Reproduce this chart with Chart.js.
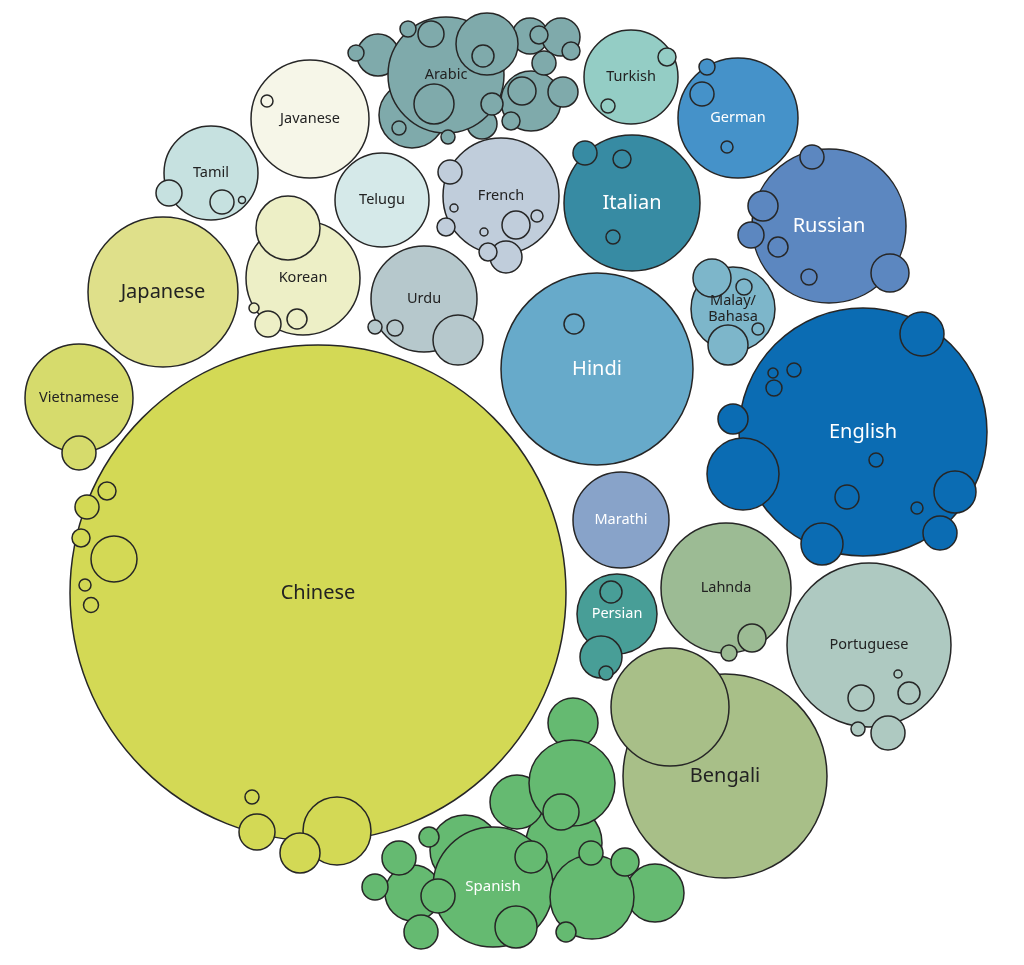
<!DOCTYPE html>
<html>
<head>
<meta charset="utf-8">
<script src="https://cdn.jsdelivr.net/npm/chart.js@4"></script>
<style>
body{margin:0;background:#fff}
#wrap{width:1024px;height:965px}
</style>
</head>
<body>
<div id="wrap"><canvas id="bubbles" width="1024" height="965"></canvas></div>
<script>
// languages, and the circles of each one as [x, y, r] (drawn in this order)
const languages = ["Chinese","Vietnamese","Japanese","Tamil","Javanese","Korean","Telugu","Urdu","French","Arabic",
  "Turkish","German","Italian","Russian","Malay/\nBahasa","Hindi","English","Marathi","Persian","Lahnda","Portuguese","Bengali","Spanish"];

const points = [
  [[318,593,248],[107,491,9],[87,507,12],[81,538,9],[114,559,23],[85,585,6],[91,605,7.5],[252,797,7],[257,832,18],[337,831,34],[300,853,20]],
  [[79,398,54],[79,453,17]],
  [[163,292,75]],
  [[211,173,47],[169,193,13],[222,202,12],[242,200,3.5]],
  [[310,119,59],[267,101,6]],
  [[303,278,57],[288,228,32],[254,308,5],[268,324,13],[297,319,10]],
  [[382,200,47]],
  [[424,299,53],[375,327,7],[395,328,8],[458,340,25]],
  [[501,196,58],[450,172,12],[454,208,4],[446,227,9],[516,225,14],[537,216,6],[484,232,4],[506,257,16],[488,252,9]],
  [[378,55,21],[356,53,8],[412,115,33],[482,124,15],[531,101,30],[530,36,18],[561,37,19],[446,75,58],[408,29,8],[431,34,13],
   [487,44,31],[483,56,11],[539,35,9],[571,51,9],[544,63,12],[522,91,14],[563,92,15],[492,104,11],[511,121,9],[399,128,7],[448,137,7],[434,104,20]],
  [[631,77,47],[667,57,9],[608,106,7]],
  [[738,118,60],[707,67,8],[702,94,12],[727,147,6]],
  [[632,203,68],[585,153,12],[622,159,9],[613,237,7]],
  [[829,226,77],[812,157,12],[763,206,15],[751,235,13],[778,247,10],[809,277,8],[890,273,19]],
  [[733,309,42],[712,278,19],[744,287,8],[758,329,6],[728,345,20]],
  [[597,369,96],[574,324,10]],
  [[863,432,124],[922,334,22],[773,373,5],[794,370,7],[774,388,8],[733,419,15],[743,474,36],[876,460,7],[847,497,12],[955,492,21],[917,508,6],[940,533,17],[822,544,21]],
  [[621,520,48]],
  [[617,614,40],[611,592,11],[601,657,21],[606,673,7]],
  [[726,588,65],[752,638,14],[729,653,8]],
  [[869,645,82],[898,674,4],[909,693,11],[861,698,13],[858,729,7],[888,733,17]],
  [[725,776,102],[670,707,59]],
  [[573,723,25],[564,843,38],[517,802,27],[572,783,43],[561,812,18],[465,850,35],[413,893,28],[399,858,17],[375,887,13],[421,932,17],[429,837,10],
   [493,887,60],[438,896,17],[531,857,16],[516,927,21],[655,893,29],[592,897,42],[591,853,12],[625,862,14],[566,932,10]]
];

// which circle carries the name
const labelAt = [0,0,0,0,0,0,0,0,0,7,0,0,0,0,0,0,0,0,0,0,0,0,11];

const fills = ["#d3d955","#d6db6c","#dfe08a","#c6e1e0","#f6f6e8","#edefc6","#d5e9e9","#b6c8cc","#c0cddb","#7faaab",
  "#94cdc5","#4592c9","#378ba3","#5c87c0","#7db6ca","#67aaca","#0b6cb3","#88a3c9","#489e97","#9cbb94","#aec9c1","#a8bf88","#65ba71"];
const bigText = ["Chinese","Japanese","Italian","Russian","Hindi","English","Bengali"];
const whiteText = ["German","Italian","Russian","Hindi","English","Marathi","Persian","Spanish"];

const datasets = languages.map((name, i) => ({
  label: name,
  data: points[i].map(p => ({x: p[0], y: p[1], r: p[2]})),
  backgroundColor: fills[i],
  borderColor: "#262626",
  borderWidth: 1.5,
  hoverBorderWidth: 1.5,
  hoverRadius: 0,
  clip: false
}));

const names = {
  id: "names",
  afterDatasetsDraw(chart) {
    const ctx = chart.ctx;
    ctx.save();
    ctx.textAlign = "center";
    ctx.textBaseline = "middle";
    chart.data.datasets.forEach((ds, i) => {
      const el = chart.getDatasetMeta(i).data[labelAt[i]];
      const name = languages[i];
      const size = bigText.includes(name) ? 20 : (name === "Spanish" ? 15 : 14.5);
      ctx.font = size + "px 'Noto Sans'";
      ctx.fillStyle = whiteText.includes(name) ? "#ffffff" : "#222222";
      const lines = name.split("\n");
      lines.forEach((t, k) => {
        ctx.fillText(t, el.x, el.y + (k - (lines.length - 1) / 2) * 16);
      });
    });
    ctx.restore();
  }
};

new Chart("bubbles", {
  type: "bubble",
  data: {datasets: datasets},
  options: {
    responsive: false,
    animation: false,
    events: [],
    layout: {padding: 0, autoPadding: false},
    plugins: {legend: {display: false}, tooltip: {enabled: false}},
    scales: {
      x: {type: "linear", min: 0, max: 1024, display: false},
      y: {type: "linear", min: 0, max: 965, reverse: true, display: false}
    }
  },
  plugins: [names]
});
</script>
</body>
</html>
